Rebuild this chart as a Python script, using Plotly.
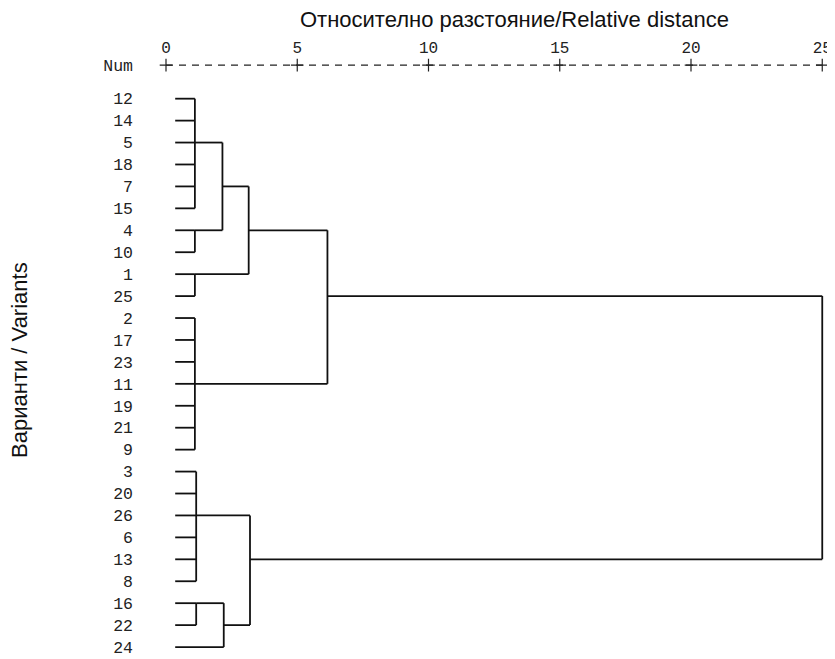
import plotly.graph_objects as go

# ---- data ----
leaf_labels = ["12", "14", "5", "18", "7", "15", "4", "10", "1", "25",
               "2", "17", "23", "11", "19", "21", "9",
               "3", "20", "26", "6", "13", "8", "16", "22", "24"]

merge_children = [
    ["12", "14", "5", "18", "7", "15"],          # m0
    ["4", "10"],                                 # m1
    ["m0", "m1"],                                # m2
    ["1", "25"],                                 # m3
    ["m2", "m3"],                                # m4
    ["2", "17", "23", "11", "19", "21", "9"],    # m5
    ["m4", "m5"],                                # m6
    ["3", "20", "26", "6", "13", "8"],           # m7
    ["16", "22"],                                # m8
    ["m8", "24"],                                # m9
    ["m7", "m9"],                                # m10
    ["m6", "m10"],                               # m11
]
merge_heights = [1.1, 1.1, 2.15, 1.1, 3.15, 1.1, 6.15, 1.15, 1.15, 2.2, 3.2, 25.0]

distance_ticks = [0, 5, 10, 15, 20, 25]
distance_tick_labels = ["0", "5", "10", "15", "20", "25"]

title_x = "Относително разстояние/Relative distance"
title_y = "Варианти / Variants"
num_label = "Num"

# ---- layout constants ----
LEAF_START = 0.35
NUM_ROW = -1.53
MONO = "Courier New, Liberation Mono, monospace"
SANS = "Arial, Liberation Sans, sans-serif"

# ---- build dendrogram segments from the merge structure ----
node = {lab: (i, LEAF_START) for i, lab in enumerate(leaf_labels)}
xs, ys = [], []
for k, (children, h) in enumerate(zip(merge_children, merge_heights)):
    rows = [node[c][0] for c in children]
    for c in children:
        r, ch = node[c]
        xs += [ch, h, None]
        ys += [r, r, None]
    lo, hi = min(rows), max(rows)
    xs += [h, h, None]
    ys += [lo, hi, None]
    node[f"m{k}"] = ((lo + hi) // 2, h)

fig = go.Figure()
fig.add_trace(go.Scatter(x=xs, y=ys, mode="lines",
                         line=dict(color="#111111", width=1.8),
                         hoverinfo="skip", showlegend=False))

# dashed scale line "+---------+---------+ ..."
fig.add_trace(go.Scatter(x=[distance_ticks[0], distance_ticks[-1]], y=[NUM_ROW, NUM_ROW],
                         mode="lines", line=dict(color="#222222", width=1.1, dash="7px,6px"),
                         hoverinfo="skip", showlegend=False))
fig.add_trace(go.Scatter(x=distance_ticks, y=[NUM_ROW] * len(distance_ticks),
                         mode="markers",
                         marker=dict(symbol="cross-thin", size=9,
                                     line=dict(color="#222222", width=1.2)),
                         hoverinfo="skip", showlegend=False))

fig.update_layout(
    width=827, height=651,
    margin=dict(l=148, r=7, t=49, b=8, autoexpand=False),
    paper_bgcolor="white", plot_bgcolor="white",
    showlegend=False,
    xaxis=dict(range=[-0.381, 25.219], side="top", automargin=False,
               tickvals=distance_ticks, ticktext=distance_tick_labels,
               showgrid=False, zeroline=False, showline=False, ticks="",
               ticklabeloverflow="allow",
               tickfont=dict(family=MONO, size=16, color="#222222")),
    yaxis=dict(range=[25.18, -1.9], automargin=False,
               tickvals=list(range(len(leaf_labels))) + [NUM_ROW],
               ticktext=leaf_labels + [num_label],
               showgrid=False, zeroline=False, showline=False, ticks="",
               ticklabelstandoff=22, ticklabeloverflow="allow",
               tickfont=dict(family=MONO, size=16.5, color="#222222")),
    annotations=[
        dict(text=title_x, xref="paper", yref="paper", x=0.534, y=1.0625,
             xanchor="center", yanchor="middle", showarrow=False,
             font=dict(family=SANS, size=22, color="#111111")),
        dict(text=title_y, xref="paper", yref="paper", x=-0.2024, y=0.49,
             xanchor="center", yanchor="middle", showarrow=False, textangle=-90,
             font=dict(family=SANS, size=22, color="#111111")),
    ],
)

fig.write_html("out.html")
